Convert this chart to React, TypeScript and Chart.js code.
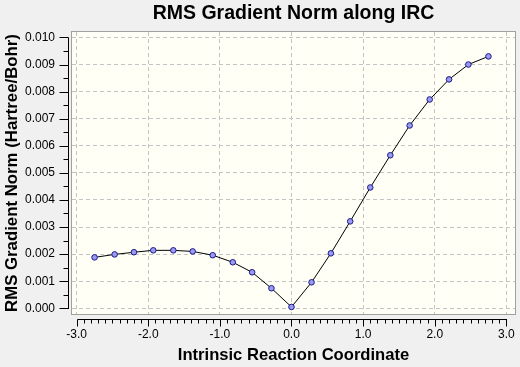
import React, { useEffect, useRef } from "react";
import { Chart, registerables } from "chart.js";

Chart.register(...registerables);

// ---- data ----
const ircCoord: number[] = [
  -2.75, -2.47, -2.2, -1.93, -1.65, -1.38, -1.1, -0.82, -0.55, -0.28, 0,
  0.28, 0.55, 0.82, 1.1, 1.38, 1.65, 1.93, 2.2, 2.47, 2.75,
];
const rmsGradNorm: number[] = [
  0.00188, 0.00199, 0.00207, 0.00214, 0.00214, 0.0021, 0.00196, 0.0017,
  0.00133, 0.00074, 0.00005, 0.00096, 0.00203, 0.00321, 0.00446, 0.00565,
  0.00675, 0.00771, 0.00845, 0.009, 0.0093,
];
const xTickValues: number[] = [-3, -2, -1, 0, 1, 2, 3];
const yTickValues: number[] = [
  0, 0.001, 0.002, 0.003, 0.004, 0.005, 0.006, 0.007, 0.008, 0.009, 0.01,
];
const xMinorStep = 0.1;
const yMinorStep = 0.0005;

const titleText = "RMS Gradient Norm along IRC";
const xTitle = "Intrinsic Reaction Coordinate";
const yTitle = "RMS Gradient Norm (Hartree/Bohr)";

const FONT = "'Liberation Sans', Arial, sans-serif";

const framePlugin = {
  id: "frame",
  beforeDraw(chart: any) {
    const { ctx, chartArea: ca, width, height } = chart;
    ctx.save();
    ctx.fillStyle = "#f0f0f0";
    ctx.fillRect(0, 0, width, height);
    ctx.fillStyle = "#fffff6";
    ctx.fillRect(ca.left, ca.top, ca.right - ca.left, ca.bottom - ca.top);
    ctx.restore();
  },
  afterDraw(chart: any) {
    const { ctx, chartArea: ca } = chart;
    const xs = chart.scales.x;
    const ys = chart.scales.y;
    const snap = (v: number) => Math.round(v) + 0.5;
    ctx.save();
    // plot border
    ctx.strokeStyle = "#a0a0a0";
    ctx.lineWidth = 1;
    ctx.strokeRect(
      snap(ca.left - 1),
      snap(ca.top - 1),
      Math.round(ca.right - ca.left) + 1,
      Math.round(ca.bottom - ca.top) + 1
    );
    ctx.strokeStyle = "#000000";
    ctx.beginPath();
    // x axis line
    const ay = snap(ca.bottom + 5);
    const x0 = xTickValues[0];
    const x1 = xTickValues[xTickValues.length - 1];
    ctx.moveTo(snap(xs.getPixelForValue(x0)), ay);
    ctx.lineTo(snap(xs.getPixelForValue(x1)) + 0.5, ay);
    const nx = Math.round((x1 - x0) / xMinorStep);
    for (let i = 0; i <= nx; i++) {
      const v = x0 + i * xMinorStep;
      const px = snap(xs.getPixelForValue(v));
      const major = i % 10 === 0;
      ctx.moveTo(px, ay);
      ctx.lineTo(px, ay + (major ? 7 : 4));
    }
    // y axis line
    const ax = snap(ca.left - 4);
    const y0 = yTickValues[0];
    const y1 = yTickValues[yTickValues.length - 1];
    ctx.moveTo(ax, snap(ys.getPixelForValue(y0)) + 0.5);
    ctx.lineTo(ax, snap(ys.getPixelForValue(y1)));
    const ny = Math.round((y1 - y0) / yMinorStep);
    for (let i = 0; i <= ny; i++) {
      const v = y0 + i * yMinorStep;
      const py = snap(ys.getPixelForValue(v));
      const major = i % 2 === 0;
      ctx.moveTo(ax, py);
      ctx.lineTo(ax - (major ? 9 : 5), py);
    }
    ctx.stroke();
    ctx.restore();
  },
};

export default function App() {
  const ref = useRef<HTMLCanvasElement | null>(null);

  useEffect(() => {
    document.body.style.margin = "0";
    const canvas = ref.current;
    if (!canvas) return;
    const chart = new Chart(canvas, {
      type: "scatter",
      data: {
        datasets: [
          {
            data: ircCoord.map((x, i) => ({ x, y: rmsGradNorm[i] })),
            showLine: true,
            borderColor: "#000000",
            borderWidth: 1,
            tension: 0,
            pointRadius: 2.8,
            pointBackgroundColor: "#9a9aee",
            pointBorderColor: "#1a1a8a",
            pointBorderWidth: 1,
          },
        ],
      },
      options: {
        responsive: false,
        animation: false,
        events: [],
        layout: { padding: { top: 0, right: 3, bottom: 0, left: 0 } },
        plugins: {
          legend: { display: false },
          tooltip: { enabled: false },
          title: {
            display: true,
            text: titleText,
            fullSize: false,
            color: "#000000",
            font: { family: FONT, size: 19.5, weight: "bold" },
            padding: { top: 1.5, bottom: 7.1 },
          },
        },
        scales: {
          x: {
            type: "linear",
            min: -3.065,
            max: 3.121,
            afterFit: (s: any) => {
              s.height = 53;
              s.paddingLeft = 0;
              s.paddingRight = 0;
            },
            afterBuildTicks: (s: any) => {
              s.ticks = xTickValues.map((v) => ({ value: v }));
            },
            grid: {
              color: "#c4c4c4",
              lineWidth: 1,
              drawTicks: false,
            },
            border: { display: false, dash: [4, 3] },
            ticks: {
              color: "#000000",
              padding: 13,
              maxRotation: 0,
              autoSkip: false,
              font: { family: FONT, size: 12 },
              callback: (v: any) => Number(v).toFixed(1),
            },
            title: {
              display: true,
              text: xTitle,
              color: "#000000",
              font: { family: FONT, size: 16.6, weight: "bold" },
              padding: { top: 0, bottom: 1.8 },
            },
          },
          y: {
            type: "linear",
            min: -0.00021,
            max: 0.0102,
            afterFit: (s: any) => {
              s.width = 72;
              s.paddingTop = 0;
              s.paddingBottom = 0;
            },
            afterBuildTicks: (s: any) => {
              s.ticks = yTickValues.map((v) => ({ value: v }));
            },
            grid: {
              color: "#c4c4c4",
              lineWidth: 1,
              drawTicks: false,
            },
            border: { display: false, dash: [4, 3] },
            ticks: {
              color: "#000000",
              padding: 17,
              autoSkip: false,
              font: { family: FONT, size: 12 },
              callback: (v: any) => Number(v).toFixed(3),
            },
            title: {
              display: true,
              text: yTitle,
              color: "#000000",
              font: { family: FONT, size: 16.8, weight: "bold" },
              padding: { top: 2.2, bottom: 0 },
            },
          },
        },
      } as any,
      plugins: [framePlugin],
    });
    return () => chart.destroy();
  }, []);

  return (
    <div style={{ width: 520, height: 367 }}>
      <canvas ref={ref} width={520} height={367} style={{ display: "block" }} />
    </div>
  );
}
